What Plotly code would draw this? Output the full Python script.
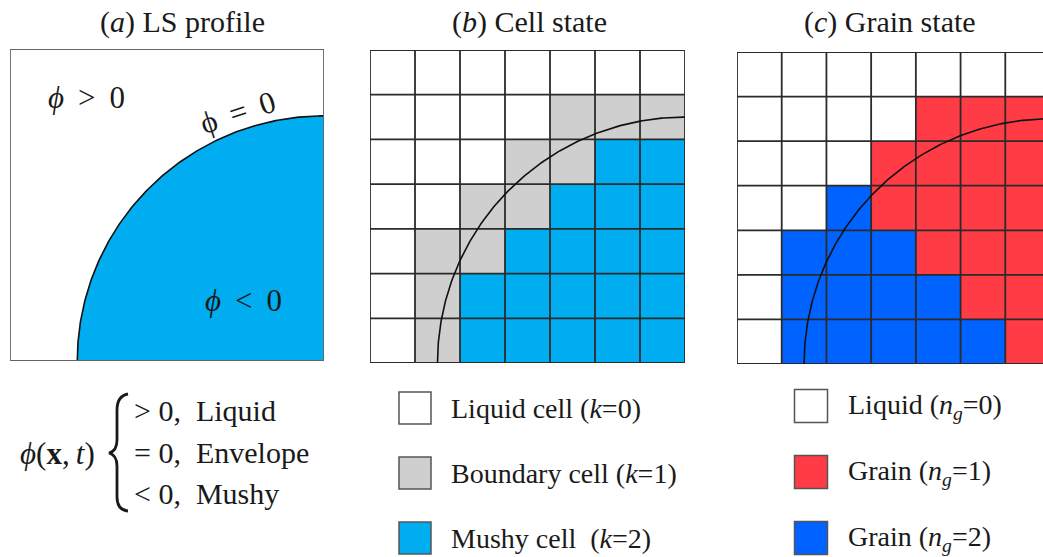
import numpy as np
import plotly.graph_objects as go

W, H = 1043, 557
N = 7
R = 5.5  # radius of phi=0 front (in cell units), centred at bottom-right corner

# Cell state k (rows top->bottom)
cell_state = [
    [0, 0, 0, 0, 0, 0, 0],
    [0, 0, 0, 0, 1, 1, 1],
    [0, 0, 0, 1, 1, 2, 2],
    [0, 0, 1, 1, 2, 2, 2],
    [0, 1, 1, 2, 2, 2, 2],
    [0, 1, 2, 2, 2, 2, 2],
    [0, 1, 2, 2, 2, 2, 2],
]
# Grain state n_g
grain_state = [
    [0, 0, 0, 0, 0, 0, 0],
    [0, 0, 0, 0, 1, 1, 1],
    [0, 0, 0, 1, 1, 1, 1],
    [0, 0, 2, 1, 1, 1, 1],
    [0, 2, 2, 2, 1, 1, 1],
    [0, 2, 2, 2, 2, 1, 1],
    [0, 2, 2, 2, 2, 2, 1],
]

WHITE = "#ffffff"
GRAY = "#cfcfcf"
CYAN = "#00adf0"
RED = "#ff3c46"
BLUE = "#0062ff"

cell_colors = [WHITE, GRAY, CYAN]
grain_colors = [WHITE, RED, BLUE]
cell_labels = ["Liquid cell (<i>k</i>=0)", "Boundary cell (<i>k</i>=1)", "Mushy cell \u00a0(<i>k</i>=2)"]
grain_labels = ["Liquid (<i>n<sub>g</sub></i>=0)", "Grain (<i>n<sub>g</sub></i>=1)", "Grain (<i>n<sub>g</sub></i>=2)"]
case_labels = ["> 0,\u2002Liquid", "= 0,\u2002Envelope", "< 0,\u2002Mushy"]

FONT = "Liberation Serif"
TXT = "#1a1a1a"

fig = go.Figure()

def dom_x(a, b):
    return [a / W, min(1, b / W)]

def dom_y(top, bot):
    return [1 - bot / H, 1 - top / H]

# base axes in page-pixel coords
fig.update_layout(
    xaxis=dict(domain=[0, 1], range=[0, W], visible=False, fixedrange=True),
    yaxis=dict(domain=[0, 1], range=[H, 0], visible=False, fixedrange=True),
)

panels = {
    "2": dict(x=(10, 324), y=(49, 361), xr=[0, 7]),
    "3": dict(x=(370, 685), y=(50, 363), xr=[0, 7]),
    "4": dict(x=(737, 1043), y=(52, 364), xr=[0, 7 * 306 / 313]),
}
for k, p in panels.items():
    fig.update_layout(**{
        f"xaxis{k}": dict(domain=dom_x(*p["x"]), range=p["xr"], visible=False,
                          fixedrange=True, anchor=f"y{k}"),
        f"yaxis{k}": dict(domain=dom_y(*p["y"]), range=[7, 0], visible=False,
                          fixedrange=True, anchor=f"x{k}"),
    })

t = np.linspace(0, np.pi / 2, 200)
arc_x = N - R * np.cos(t)
arc_y = N - R * np.sin(t)

# Panel (a): LS profile
fig.add_trace(go.Scatter(x=list(arc_x) + [N], y=list(arc_y) + [N], fill="toself",
                         fillcolor=CYAN, line=dict(width=0), mode="lines",
                         xaxis="x2", yaxis="y2", hoverinfo="skip", showlegend=False))
fig.add_trace(go.Scatter(x=arc_x, y=arc_y, mode="lines", line=dict(color="#111", width=1.6),
                         xaxis="x2", yaxis="y2", hoverinfo="skip", showlegend=False))
fig.add_shape(type="rect", xref="x2", yref="y2", x0=0, y0=0, x1=N, y1=N,
              line=dict(color="#666", width=1.8))

# grid panels
def grid_panel(state, colors, k):
    n = len(colors)
    scale = []
    for i, c in enumerate(colors):
        scale.append([i / n, c])
        scale.append([(i + 1) / n, c])
    fig.add_trace(go.Heatmap(z=state, x=[i + 0.5 for i in range(N)], y=[j + 0.5 for j in range(N)],
                             colorscale=scale, zmin=-0.5, zmax=n - 0.5, showscale=False,
                             xaxis=f"x{k}", yaxis=f"y{k}", hoverinfo="skip"))
    gx, gy = [], []
    for i in range(N + 1):
        gx += [i, i, None]; gy += [0, N, None]
        gx += [0, N, None]; gy += [i, i, None]
    fig.add_trace(go.Scatter(x=gx, y=gy, mode="lines", line=dict(color="#2b2b2b", width=1.8),
                             xaxis=f"x{k}", yaxis=f"y{k}", hoverinfo="skip", showlegend=False))
    fig.add_trace(go.Scatter(x=arc_x, y=arc_y, mode="lines", line=dict(color="#111", width=1.6),
                             xaxis=f"x{k}", yaxis=f"y{k}", hoverinfo="skip", showlegend=False))

grid_panel(cell_state, cell_colors, "3")
grid_panel(grain_state, grain_colors, "4")

# legend squares (page coords on base axes)
fig.add_trace(go.Scatter(x=[415] * 3, y=[408, 473, 538], mode="markers",
                         marker=dict(symbol="square", size=32, color=cell_colors,
                                     line=dict(color="#555", width=1.5)),
                         hoverinfo="skip", showlegend=False))
fig.add_trace(go.Scatter(x=[811] * 3, y=[406, 472, 538], mode="markers",
                         marker=dict(symbol="square", size=33, color=grain_colors,
                                     line=dict(color="#555", width=1.5)),
                         hoverinfo="skip", showlegend=False))

ann = []
def text(x, y, s, size=24, xanchor="center", angle=0):
    ann.append(dict(x=x, y=y, xref="x", yref="y", text=s, showarrow=False, xanchor=xanchor,
                    yanchor="middle", textangle=angle,
                    font=dict(family=FONT, size=size, color=TXT)))

text(182, 22, "(<i>a</i>) LS profile", 30)
text(529, 22, "(<i>b</i>) Cell state", 30)
text(890, 22, "(<i>c</i>) Grain state", 30)

text(86, 97, "<i>ϕ</i>\u00a0\u2009>\u00a0\u20090", 31)
text(237, 112, "ϕ\u00a0\u2009=\u00a0\u20090", 31, angle=-18)
text(243, 300, "<i>ϕ</i>\u00a0\u2009<\u00a0\u20090", 31)

text(57, 453, "<i>ϕ</i>(<b>x</b>,\u2009<i>t</i>)", 31)
for yy, s in zip([410, 452, 493], case_labels):
    text(132, yy, s, 30, xanchor="left")

for yy, s in zip([408, 473, 538], cell_labels):
    text(449, yy, s, 28, xanchor="left")
for yy, s in zip([406, 472, 538], grain_labels):
    text(846, yy, s, 28, xanchor="left")

fig.add_shape(type="path", xref="x", yref="y",
              path="M 128,394 Q 117,396 117,410 L 117,440 Q 117,451 109,453 "
                   "Q 117,455 117,466 L 117,497 Q 117,510 128,511",
              line=dict(color=TXT, width=2.8))

fig.update_layout(annotations=ann, width=W, height=H, margin=dict(l=0, r=0, t=0, b=0),
                  paper_bgcolor="white", plot_bgcolor="white", showlegend=False)

fig.write_html("out.html", config={"displayModeBar": False},
               post_script="document.body.style.margin='0px';")
